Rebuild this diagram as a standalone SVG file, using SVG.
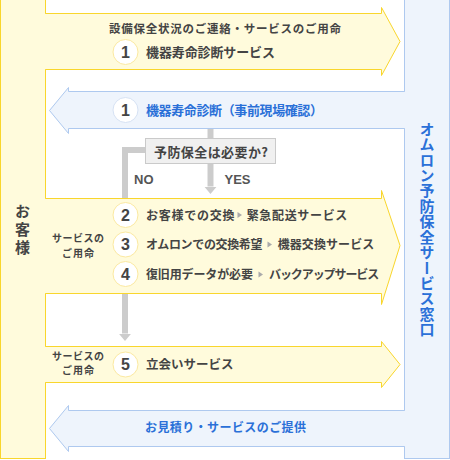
<svg xmlns="http://www.w3.org/2000/svg" width="450" height="460" viewBox="0 0 450 460">
<style>
.ypanel{fill:#fffbdc;stroke:#f9d62c;stroke-width:1}
.bpanel{fill:#eef4fc;stroke:#aec9ef;stroke-width:1}
.yfill{fill:#fffbdc}
.bfill{fill:#eef4fc}
.jp{font-family:"Noto Sans CJK JP","Noto Sans CJK SC",sans-serif;font-weight:bold}
.gray{fill:#444}
.blue{fill:#2a70d8}
.num{font-family:"Liberation Sans",Arial,sans-serif;font-weight:bold;font-size:16px;fill:#444;text-anchor:middle}
.lat{font-family:"Liberation Sans",Arial,sans-serif;font-weight:bold;font-size:13px;fill:#555}
.ycirc{fill:#fff;stroke:#fbe9a0;stroke-width:1}
.bcirc{fill:#fff;stroke:#d6e2f4;stroke-width:1}
.conn{fill:none;stroke:#cccccc;stroke-width:6}
.tri{fill:#aaaaaa}
.box{fill:#f0f0f0;stroke:#cacaca;stroke-width:1}
.vert{writing-mode:vertical-rl}
.small{font-size:10px}
</style>
<defs>
<marker id="ah" markerUnits="userSpaceOnUse" markerWidth="8" markerHeight="13" viewBox="0 -6.5 8 13" refX="0" refY="0" orient="auto">
<path d="M0,-6.3 L7.5,0 L0,6.3 z" fill="#cccccc"/>
</marker>
</defs>

<g id="customer">
<rect class="ypanel" x="0.5" y="-1" width="45" height="459.5"/>
<text class="jp gray vert" x="22.5" y="204" font-size="15" letter-spacing="3">お客様</text>
</g>

<g id="omron-window">
<rect class="bpanel" x="404.5" y="-1" width="45" height="459.5"/>
<text class="jp blue vert" x="427" y="121.5" font-size="15" letter-spacing="0.43">オムロン予防保全サービス窓口</text>
</g>

<g id="connectors">
<path class="conn" d="M210.5,128 V139"/>
<path class="conn" d="M210.5,163 V186.5" marker-end="url(#ah)"/>
<path class="conn" d="M146,150 H125 V333.5" marker-end="url(#ah)"/>
<text class="lat" x="134" y="184">NO</text>
<text class="lat" x="224.5" y="184">YES</text>
</g>

<g id="request-diagnosis">
<path class="ypanel" d="M45.5,13.5 H381.5 V7.5 L400,41.5 L381.5,75.5 V69.5 H45.5"/>
<rect class="yfill" x="45" y="14" width="1.5" height="55"/>
<text class="jp gray" x="109" y="32.5" font-size="11.5" textLength="232">設備保全状況のご連絡・サービスのご用命</text>
<circle class="ycirc" cx="125.5" cy="52" r="12.5"/>
<text class="num" x="125.5" y="57.7">1</text>
<text class="jp gray" x="146" y="56.5" font-size="13" textLength="129">機器寿命診断サービス</text>
</g>

<g id="diagnosis">
<path class="bpanel" d="M404.5,91.5 H68.5 V87.5 L49.5,110.5 L68.5,133.5 V128.5 H404.5"/>
<rect class="bfill" x="403.5" y="92" width="1.5" height="36"/>
<circle class="bcirc" cx="125.5" cy="110" r="12.5"/>
<text class="num" x="125.5" y="115.7">1</text>
<text class="jp blue" x="146" y="115" font-size="13" textLength="177">機器寿命診断（事前現場確認）</text>
</g>

<g id="decision">
<rect class="box" x="145.5" y="138.5" width="130" height="25"/>
<text class="jp gray" x="211" y="157" font-size="13" text-anchor="middle" textLength="114">予防保全は必要か?</text>
</g>

<g id="services">
<path class="ypanel" d="M45.5,198.5 H381.5 V190.5 L400,245.5 L381.5,304.5 V293.5 H45.5"/>
<rect class="yfill" x="45" y="199" width="1.5" height="94"/>
<text class="jp gray small" x="78" y="242.3" text-anchor="middle" textLength="52">サービスの</text>
<text class="jp gray small" x="78" y="256.8" text-anchor="middle" textLength="32">ご用命</text>
<circle class="ycirc" cx="125.5" cy="215" r="12.5"/>
<text class="num" x="125.5" y="220.7">2</text>
<text class="jp gray" x="146" y="219.6" font-size="12" textLength="88.5">お客様での交換</text>
<polygon class="tri" points="237.5,212 242,215 237.5,218"/>
<text class="jp gray" x="246.7" y="219.6" font-size="12" textLength="100.6">緊急配送サービス</text>
<circle class="ycirc" cx="125.5" cy="244.5" r="12.5"/>
<text class="num" x="125.5" y="250.2">3</text>
<text class="jp gray" x="146" y="249" font-size="12" textLength="116.5">オムロンでの交換希望</text>
<polygon class="tri" points="267.5,241.5 272,244.5 267.5,247.5"/>
<text class="jp gray" x="277.7" y="249" font-size="12" textLength="96.6">機器交換サービス</text>
<circle class="ycirc" cx="125.5" cy="274" r="12.5"/>
<text class="num" x="125.5" y="279.7">4</text>
<text class="jp gray" x="146" y="279" font-size="12" textLength="107">復旧用データが必要</text>
<polygon class="tri" points="258.5,271.5 263,274.5 258.5,277.5"/>
<text class="jp gray" x="269" y="279" font-size="12" textLength="110.3">バックアップサービス</text>
</g>

<g id="attendance">
<path class="ypanel" d="M45.5,346.5 H381.5 V341.5 L400,364.5 L381.5,387.5 V382.5 H45.5"/>
<rect class="yfill" x="45" y="347" width="1.5" height="35"/>
<text class="jp gray small" x="78" y="359.8" text-anchor="middle" textLength="52">サービスの</text>
<text class="jp gray small" x="78" y="374.3" text-anchor="middle" textLength="32">ご用命</text>
<circle class="ycirc" cx="125.5" cy="364.5" r="12.5"/>
<text class="num" x="125.5" y="370.2">5</text>
<text class="jp gray" x="146" y="368.7" font-size="12.5" textLength="87.5">立会いサービス</text>
</g>

<g id="quotation">
<path class="bpanel" d="M404.5,410.5 H68.5 V405.5 L49.5,428.5 L68.5,451.5 V446.5 H404.5"/>
<rect class="bfill" x="403.5" y="411" width="1.5" height="35"/>
<text class="jp blue" x="145" y="432.3" font-size="12" textLength="161">お見積り・サービスのご提供</text>
</g>
</svg>
